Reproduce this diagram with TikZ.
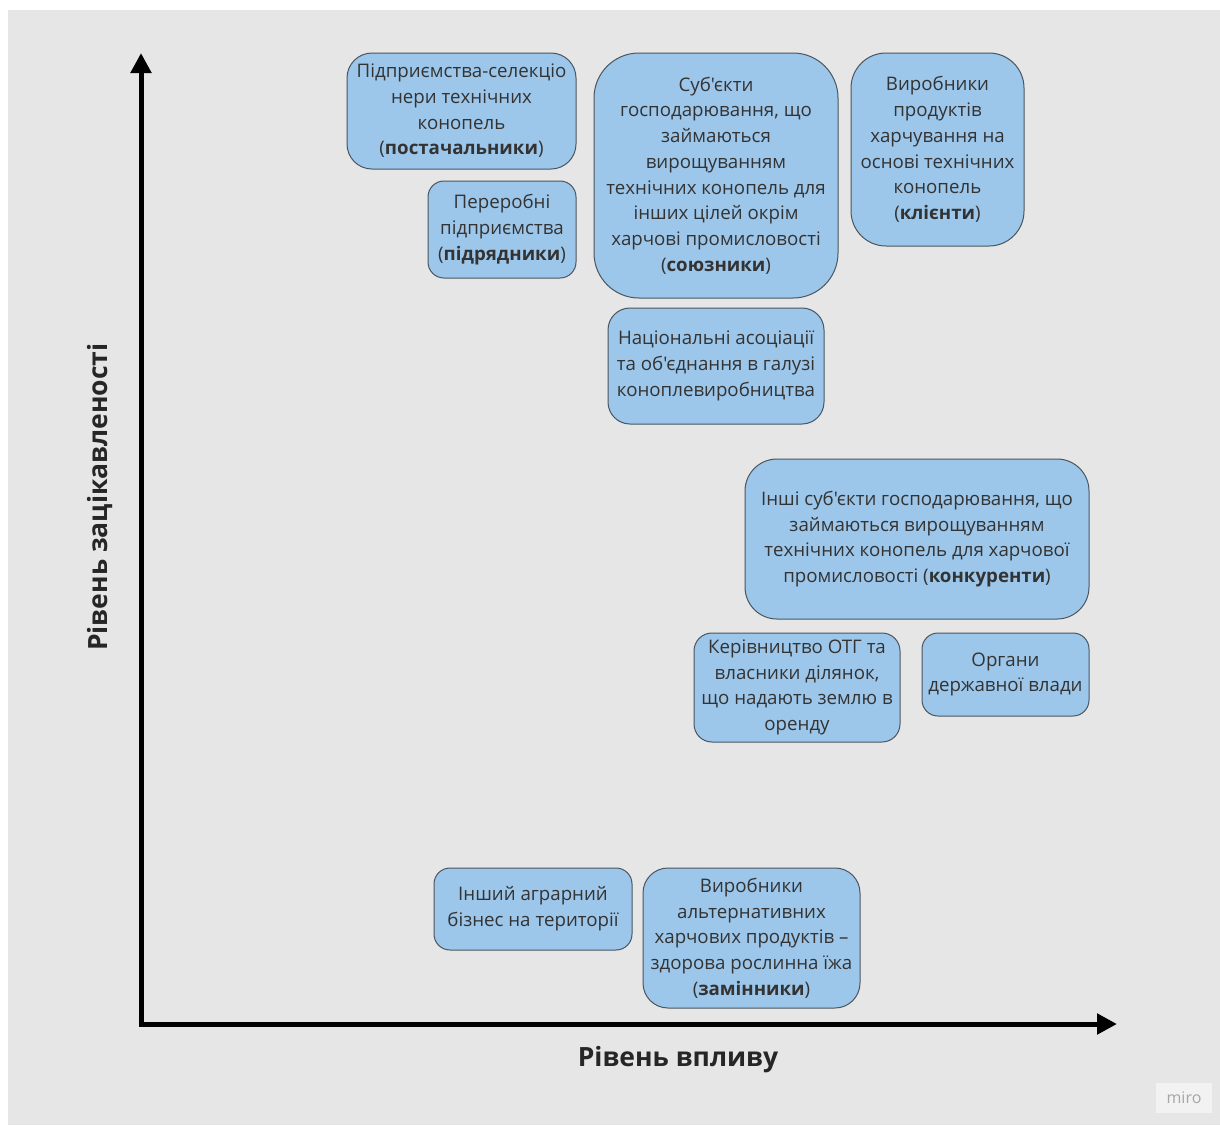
\documentclass[tikz,border=0pt]{standalone}
\usepackage{fontspec}
\setmainfont{Open Sans}[Ligatures=TeXOff]
\usetikzlibrary{arrows.meta}
\definecolor{bg}{HTML}{E6E6E6}
\definecolor{boxfill}{HTML}{9DC7EA}
\definecolor{boxline}{HTML}{4A5560}
\definecolor{txt}{HTML}{333333}
\begin{document}
\begin{tikzpicture}[x=1pt,y=-1pt,
  card/.style={draw=boxline, fill=boxfill, line width=1pt, text=txt, align=center,
    inner sep=0pt, font=\fontsize{18.7}{25.7}\selectfont},
  axlabel/.style={font=\fontsize{26.5}{30}\selectfont\bfseries, text=black!85}]
\useasboundingbox (0,0) rectangle (1220,1125);
\fill[white] (0,0) rectangle (1220,1125);
\fill[bg] (8,10) rectangle (1220,1125);

% boxes
\node[card, minimum width=229pt, minimum height=116pt, rounded corners=25pt] (sup) at (461.5,111)
  {Підприємства-селекціо\\нери технічних\\конопель\\(\textbf{постачальники})};
\node[card, minimum width=148pt, minimum height=97pt, rounded corners=16pt] (sub) at (502,229.5)
  {Переробні\\підприємства\\(\textbf{підрядники})};
\node[card, minimum width=244pt, minimum height=245pt, rounded corners=45pt] (all) at (716,175.5)
  {Суб'єкти\\господарювання, що\\займаються\\вирощуванням\\технічних конопель для\\інших цілей окрім\\харчові промисловості\\(\textbf{союзники})};
\node[card, minimum width=173pt, minimum height=193pt, rounded corners=35pt] (cli) at (937.5,149.5)
  {Виробники\\продуктів\\харчування на\\основі технічних\\конопель\\(\textbf{клієнти})};
\node[card, minimum width=216pt, minimum height=116pt, rounded corners=22pt] (nat) at (716,366)
  {Національні асоціації\\та об'єднання в галузі\\коноплевиробництва};
\node[card, minimum width=344pt, minimum height=160pt, rounded corners=32pt] (comp) at (917,539)
  {Інші суб'єкти господарювання, що\\займаються вирощуванням\\технічних конопель для харчової\\промисловості (\textbf{конкуренти})};
\node[card, minimum width=206pt, minimum height=109pt, rounded corners=18pt] (otg) at (797,687.5)
  {Керівництво ОТГ та\\власники ділянок,\\що надають землю в\\оренду};
\node[card, minimum width=167pt, minimum height=83pt, rounded corners=16pt] (gov) at (1005.5,674.5)
  {Органи\\державної влади};
\node[card, minimum width=198pt, minimum height=82pt, rounded corners=16pt] (agr) at (533,909)
  {Інший аграрний\\бізнес на території};
\node[card, minimum width=217pt, minimum height=140pt, rounded corners=25pt] (subst) at (751.5,938)
  {Виробники\\альтернативних\\харчових продуктів –\\здорова рослинна їжа\\(\textbf{замінники})};

% axes
\coordinate (ytop) at (141,53);
\coordinate (orig) at (141,1024);
\coordinate (xend) at (1117,1024);
\draw[line width=5pt, -{Triangle[length=20pt,width=20pt]}] (orig) -- (ytop);
\draw[line width=5pt, -{Triangle[length=20pt,width=20pt]}] ([xshift=-2.5pt]orig) -- (xend);

\node[axlabel, rotate=90] (ylab) at (100,497) {Рівень зацікавленості};
\node[axlabel] (xlab) at (678,1060) {Рівень впливу};

% watermark
\node[fill=white!50!bg, minimum width=56pt, minimum height=30pt, inner sep=0pt,
  text=black!35, font=\fontsize{16}{18}\selectfont] (miro) at (1184,1098) {miro};
\end{tikzpicture}
\end{document}
